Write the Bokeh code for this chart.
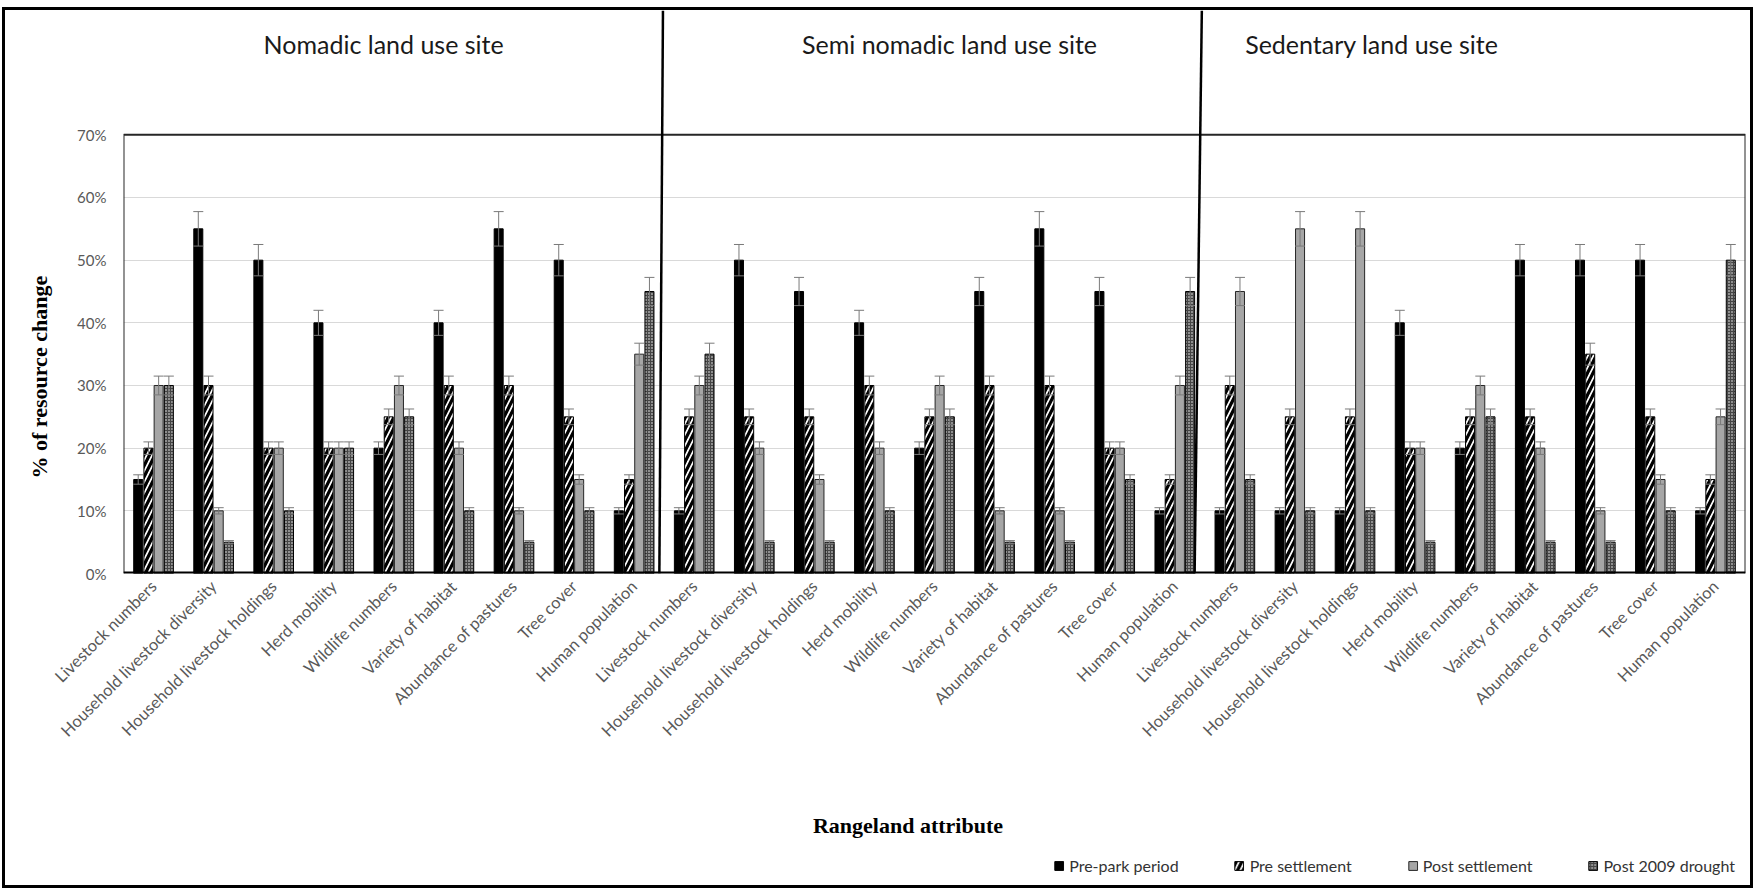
import math
from bokeh.plotting import figure
from bokeh.layouts import column
from bokeh.models import (ColumnDataSource, Range1d, FixedTicker, NumeralTickFormatter,
                          Whisker, TeeHead, Legend, LegendItem, Label, Title)
from bokeh.transform import dodge
from bokeh.core.properties import value
from bokeh.embed import file_html
from bokeh.resources import INLINE

# ---------------- data ----------------
sites = ["Nomadic land use site", "Semi nomadic land use site", "Sedentary land use site"]
attributes = ["Livestock numbers", "Household livestock diversity", "Household livestock holdings",
              "Herd mobility", "Wildlife numbers", "Variety of habitat", "Abundance of pastures",
              "Tree cover", "Human population"]
series = ["Pre-park period", "Pre settlement", "Post settlement", "Post 2009 drought"]

pre_park = [0.15, 0.55, 0.50, 0.40, 0.20, 0.40, 0.55, 0.50, 0.10,
            0.10, 0.50, 0.45, 0.40, 0.20, 0.45, 0.55, 0.45, 0.10,
            0.10, 0.10, 0.10, 0.40, 0.20, 0.50, 0.50, 0.50, 0.10]
pre_settlement = [0.20, 0.30, 0.20, 0.20, 0.25, 0.30, 0.30, 0.25, 0.15,
                  0.25, 0.25, 0.25, 0.30, 0.25, 0.30, 0.30, 0.20, 0.15,
                  0.30, 0.25, 0.25, 0.20, 0.25, 0.25, 0.35, 0.25, 0.15]
post_settlement = [0.30, 0.10, 0.20, 0.20, 0.30, 0.20, 0.10, 0.15, 0.35,
                   0.30, 0.20, 0.15, 0.20, 0.30, 0.10, 0.10, 0.20, 0.30,
                   0.45, 0.55, 0.55, 0.20, 0.30, 0.20, 0.10, 0.15, 0.25]
post_drought = [0.30, 0.05, 0.10, 0.20, 0.25, 0.10, 0.05, 0.10, 0.45,
                0.35, 0.05, 0.05, 0.10, 0.25, 0.05, 0.05, 0.15, 0.45,
                0.15, 0.10, 0.10, 0.05, 0.25, 0.05, 0.05, 0.10, 0.50]
y_ticks = [0.0, 0.1, 0.2, 0.3, 0.4, 0.5, 0.6, 0.7]
ERR_FRAC = 0.05   # Excel-style 5 % error bars
x_title = "Rangeland attribute"
y_title = "% of resource change"

values = [pre_park, pre_settlement, post_settlement, post_drought]
labels = attributes * len(sites)
n = len(labels)

# ---------------- main chart ----------------
W, H_MAIN, H_FOOT = 1745, 780, 95
Y_TOP = 0.8984
p = figure(width=W, height=H_MAIN, output_backend="svg", toolbar_location=None,
           x_range=Range1d(-0.5, n - 0.5), y_range=Range1d(0, Y_TOP),
           min_border_left=117, min_border_right=5, min_border_top=0, min_border_bottom=217)
p.outline_line_color = None
p.background_fill_color = "white"
p.border_fill_color = "white"

data = {"x": list(range(n)), "label": labels}
cols = ["s0", "s1", "s2", "s3"]
for c, v in zip(cols, values):
    data[c] = v
    data[c + "_up"] = [a * (1 + ERR_FRAC) for a in v]
    data[c + "_lo"] = [a * (1 - ERR_FRAC) for a in v]
src = ColumnDataSource(data)

offsets = [-0.255, -0.085, 0.085, 0.255]
BAR_W = 0.15
styles = [
    dict(fill_color="black", line_color="black"),
    dict(fill_color="white", line_color="black", hatch_pattern="/", hatch_color="black",
         hatch_scale=11, hatch_weight=3.2),
    dict(fill_color="#a6a6a6", line_color="#262626"),
    dict(fill_color="#454545", line_color="black", hatch_pattern=".", hatch_color="white",
         hatch_scale=3, hatch_weight=1.2),
]

for c, off, st in zip(cols, offsets, styles):
    p.vbar(x=dodge("x", off), top=c, width=BAR_W, source=src, line_width=1, **st)
    w = Whisker(base=dodge("x", off), upper=c + "_up", lower=c + "_lo", source=src,
                dimension="height", line_color="#7a7a7a", line_width=1, level="annotation")
    w.upper_head = TeeHead(size=10, line_color="#7a7a7a", line_width=1)
    w.lower_head = TeeHead(size=10, line_color="#7a7a7a", line_width=1)
    p.add_layout(w)

# plot box (0-70 %)
x0, x1 = -0.5, n - 0.5
p.line(x=[x0, x0, x1, x1], y=[0, y_ticks[-1], y_ticks[-1], 0], line_color="#262626", line_width=2)
p.line(x=[x0, x1], y=[0, 0], line_color="black", line_width=4)

# section dividers
per = len(attributes)
edges = [per * k - 0.5 for k in range(1, len(sites))]
top_shift = [-0.02, -0.05]
bot_shift = [-0.08, -0.17]
p.segment(x0=[e + s for e, s in zip(edges, top_shift)], y0=[Y_TOP] * len(edges),
          x1=[e + s for e, s in zip(edges, bot_shift)], y1=[0] * len(edges),
          line_color="black", line_width=2.5)

# site titles
TITLE_X = [3.83, 13.25, 20.28]
TITLE_Y = 0.8455
p.text(x=TITLE_X, y=[TITLE_Y] * 3, text=sites, text_font=value("Lato"), text_font_size="25px",
       text_align="center", text_baseline="middle", text_color="#1a1a1a")

# axes
xa = p.xaxis[0]
xa.ticker = FixedTicker(ticks=list(range(n)))
xa.major_label_overrides = {i: lab for i, lab in enumerate(labels)}
xa.major_label_orientation = math.pi / 4
xa.axis_line_color = None
xa.major_tick_line_color = None
xa.minor_tick_line_color = None
xa.major_tick_out = 0
xa.major_tick_in = 0
xa.major_label_standoff = 10
xa.major_label_text_font = "Lato"
xa.major_label_text_font_size = "16.5px"
xa.major_label_text_color = "#595959"

ya = p.yaxis[0]
ya.ticker = FixedTicker(ticks=y_ticks)
ya.formatter = NumeralTickFormatter(format="0%")
ya.axis_line_color = None
ya.major_tick_line_color = None
ya.minor_tick_line_color = None
ya.major_tick_out = 0
ya.major_tick_in = 0
ya.major_label_standoff = 17
ya.major_label_text_font = "Lato"
ya.major_label_text_font_size = "15px"
ya.major_label_text_color = "#595959"

p.xgrid.visible = False
p.ygrid.grid_line_color = "#d9d9d9"
p.ygrid.grid_line_width = 1

# y-axis title in the left panel, centred on the 0-70 % box
p.add_layout(Title(text=y_title, align="left", vertical_align="top", offset=95, standoff=42,
                   text_font="Liberation Serif", text_font_style="bold", text_font_size="22px",
                   text_color="black"), "left")

# ---------------- footer: x title + legend ----------------
q = figure(width=W, height=H_FOOT, output_backend="svg", toolbar_location=None,
           x_range=Range1d(0, W), y_range=Range1d(0, H_FOOT),
           x_axis_type=None, y_axis_type=None, min_border=0)
q.outline_line_color = None
q.xgrid.visible = False
q.ygrid.visible = False
q.add_layout(Label(x=844, y=60, text=x_title, text_align="center", text_baseline="middle",
                   text_font="Liberation Serif", text_font_style="bold", text_font_size="22px",
                   text_color="black"))
# legend proxies (one off-canvas row each, never visible)
proxies = [q.vbar(x=[-100], top=[0], width=1, line_width=1, **st) for st in styles]
legend = Legend(items=[LegendItem(label=s, renderers=[r]) for s, r in zip(series, proxies)],
                orientation="horizontal", location="bottom_right", border_line_color=None,
                background_fill_alpha=0, glyph_width=11, glyph_height=11, label_standoff=5,
                spacing=55, padding=2, margin=10,
                label_text_font="Lato", label_text_font_size="16px", label_text_color="#333333")
q.add_layout(legend)

layout = column(p, q, spacing=0,
                styles={"border": "3px solid black", "box-sizing": "content-box",
                        "margin": "7px 0 0 2px"})

open("out.html", "w").write(file_html(layout, INLINE))
